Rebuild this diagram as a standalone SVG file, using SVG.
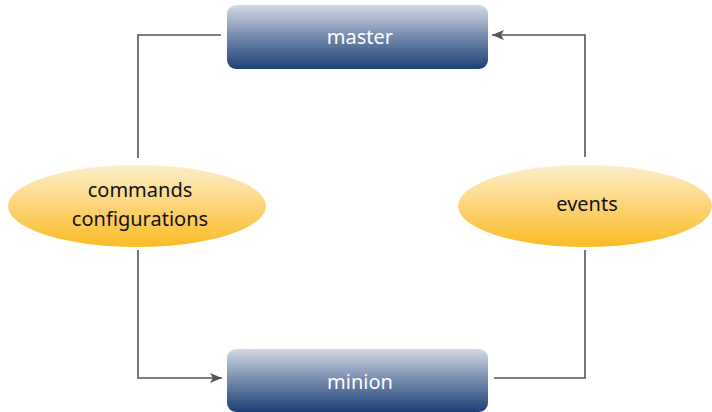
<svg xmlns="http://www.w3.org/2000/svg" width="712" height="412" viewBox="0 0 712 412">
<defs>
<linearGradient id="gBlue" x1="0" y1="0" x2="0" y2="1">
<stop offset="0" stop-color="#d3dae5"/>
<stop offset="0.5" stop-color="#7289ac"/>
<stop offset="1" stop-color="#1d4175"/>
</linearGradient>
<linearGradient id="gYel" x1="0" y1="0" x2="0" y2="1">
<stop offset="0" stop-color="#fdeecb"/>
<stop offset="1" stop-color="#fbbb25"/>
</linearGradient>
<marker id="arr" viewBox="0 0 12 10" refX="12" refY="5" markerWidth="12" markerHeight="10" markerUnits="userSpaceOnUse" orient="auto">
<path d="M0,0 L12,5 L0,10 L3,5 Z" fill="#555"/>
</marker>
<style>
.box{fill:url(#gBlue);}
.ell{fill:url(#gYel);}
.lbl{font-family:"Noto Sans","Open Sans",sans-serif;font-size:20px;text-anchor:middle;}
.w{fill:#ffffff;}
.k{fill:#111111;}
.con{fill:none;stroke:#555;stroke-width:1.6;}
</style>
</defs>
<g id="connectors">
<path class="con" d="M221,35 H138 V158"/>
<path class="con" d="M138,250 V378 H222" marker-end="url(#arr)"/>
<path class="con" d="M494,378 H585 V250"/>
<path class="con" d="M585,157 V35 H492" marker-end="url(#arr)"/>
</g>
<g id="master">
<rect class="box" x="227" y="5" width="261" height="64" rx="9"/>
<text class="lbl w" x="360" y="44">master</text>
</g>
<g id="minion">
<rect class="box" x="227" y="349" width="261" height="63" rx="9"/>
<text class="lbl w" x="360" y="389">minion</text>
</g>
<g id="commands">
<ellipse class="ell" cx="137" cy="206" rx="129" ry="41"/>
<text class="lbl k" x="140" y="197">commands</text>
<text class="lbl k" x="140" y="226">configurations</text>
</g>
<g id="events">
<ellipse class="ell" cx="585" cy="206" rx="127" ry="41"/>
<text class="lbl k" x="587" y="211">events</text>
</g>
</svg>
